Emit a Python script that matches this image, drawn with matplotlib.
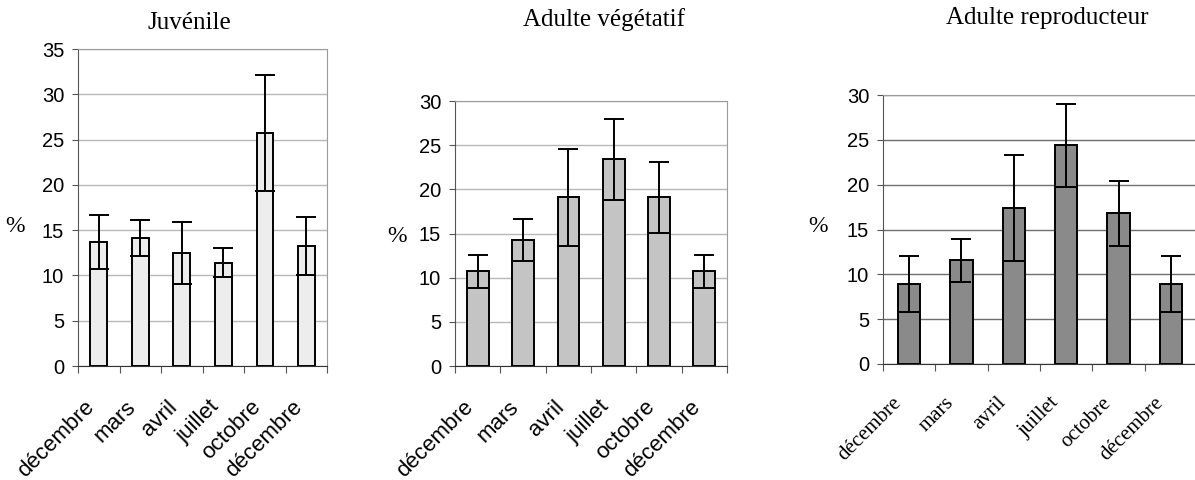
import numpy as np
import matplotlib
matplotlib.use('Agg')
import matplotlib.pyplot as plt
import matplotlib.transforms as mtransforms

# mois d'echantillonnage
mois = ['décembre', 'mars', 'avril', 'juillet', 'octobre', 'décembre']

# Juvénile
juv = [13.7, 14.1, 12.5, 11.4, 25.7, 13.3]
juv_err = [3.0, 2.0, 3.4, 1.6, 6.4, 3.2]

# Adulte végétatif
veg = [10.7, 14.3, 19.1, 23.4, 19.1, 10.7]
veg_err = [1.9, 2.4, 5.5, 4.6, 4.0, 1.9]

# Adulte reproducteur
rep = [8.9, 11.6, 17.4, 24.4, 16.8, 8.9]
rep_err = [3.1, 2.4, 5.9, 4.6, 3.6, 3.1]

SANS = 'Liberation Sans'
SERIF = 'Liberation Serif'

fig = plt.figure(figsize=(11.95, 4.8), dpi=100)

panels = [
    # (data, err, title, rect, ymax, bar colour, width, grid colour, xlabel font, xlabel size, offset)
    (juv, juv_err, 'Juvénile', [0.0653, 0.2375, 0.2084, 0.6604], 35,
     '#ededed', 0.40, '#b8b8b8', SANS, 16, (-0.15, -0.11)),
    (veg, veg_err, 'Adulte végétatif', [0.3808, 0.2375, 0.2276, 0.552], 30,
     '#c4c4c4', 0.48, '#b8b8b8', SANS, 16, (-0.15, -0.11)),
    (rep, rep_err, 'Adulte reproducteur', [0.7389, 0.2417, 0.2628, 0.560], 30,
     '#8a8a8a', 0.43, '#6e6e6e', SERIF, 15, (-0.17, -0.10)),
]
title_x = [189, 604, 1047]
title_y = [23, 20, 18]
pct_x = [15, 397, 818]
pct_y = [227, 236, 227]

for i, (vals, errs, title, rect, ymax, col, w, gcol, xfont, xsize, off) in enumerate(panels):
    ax = fig.add_axes(rect)
    x = np.arange(len(mois))
    ax.bar(x, vals, width=w, color=col, edgecolor='black', linewidth=1.4, zorder=2)
    ax.errorbar(x, vals, yerr=errs, fmt='none', ecolor='black', elinewidth=1.4,
                capsize=7, capthick=1.4, zorder=3)
    ax.set_xlim(-0.5, len(mois) - 0.5)
    ax.set_ylim(0, ymax)
    ax.set_yticks(np.arange(0, ymax + 1, 5))
    ax.yaxis.grid(True, color=gcol, linewidth=1.0, zorder=0)
    ax.set_axisbelow(True)
    for s in ['top', 'right']:
        ax.spines[s].set_color('#9a9a9a')
        ax.spines[s].set_linestyle((0, (1, 1)))
    ax.spines['left'].set_color('#555555')
    ax.spines['bottom'].set_color('#333333')
    ax.tick_params(axis='y', labelsize=14.5, length=4, direction='out', pad=6, color='#555555')
    for lab in ax.get_yticklabels():
        lab.set_family(SANS)

    # ticks between categories, labels centred on bars
    ax.set_xticks(np.arange(-0.5, len(mois), 1.0))
    ax.set_xticklabels([])
    ax.set_xticks(x, minor=True)
    ax.set_xticklabels(mois, minor=True, rotation=45, ha='right',
                       rotation_mode='anchor', fontsize=xsize, family=xfont)
    ax.tick_params(axis='x', which='major', length=5, direction='out', color='#555555')
    ax.tick_params(axis='x', which='minor', length=0, pad=14)
    offset = mtransforms.ScaledTranslation(off[0], off[1], fig.dpi_scale_trans)
    for lab in ax.get_xticklabels(minor=True):
        lab.set_transform(lab.get_transform() + offset)

    fig.text(title_x[i] / 1195, 1 - title_y[i] / 480, title, family=SERIF,
             fontsize=18, ha='center', va='center')
    fig.text(pct_x[i] / 1195, 1 - pct_y[i] / 480, '%', family=SERIF,
             fontsize=17, ha='center', va='center')

fig.savefig('out.png', dpi=100)
